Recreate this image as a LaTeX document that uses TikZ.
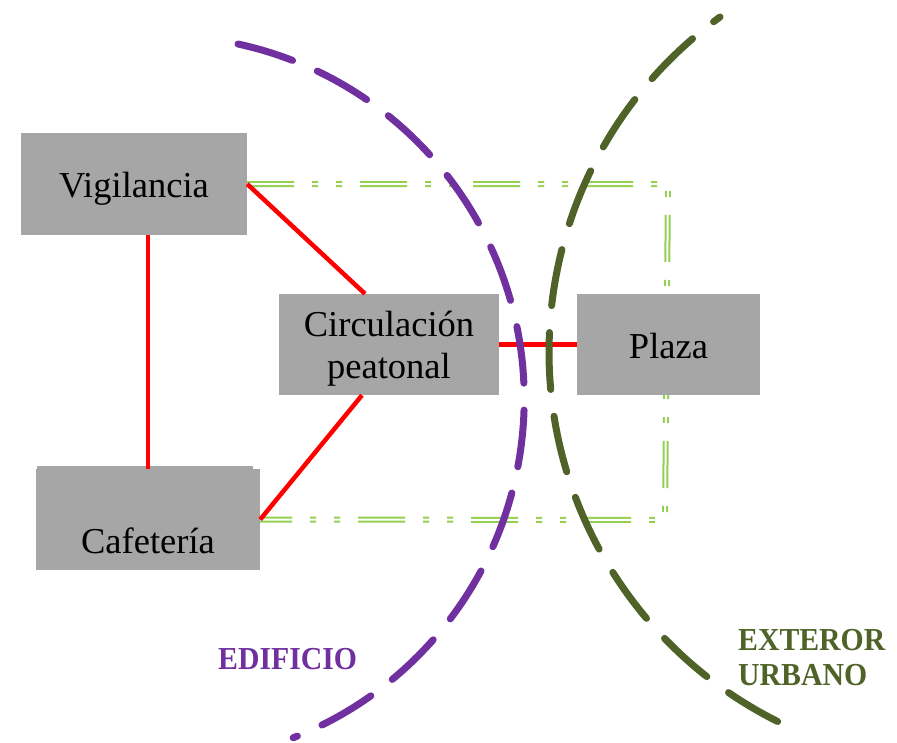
\documentclass[tikz,border=0pt]{standalone}
\usepackage{fontspec}
\setmainfont{Liberation Serif}
\newfontfamily\lblfont{Liberation Serif}[FakeStretch=0.93]
\usetikzlibrary{calc}
\definecolor{boxgray}{HTML}{A6A6A6}
\definecolor{linkred}{HTML}{FF0000}
\definecolor{edpurple}{HTML}{7030A0}
\definecolor{exgreen}{HTML}{4F6228}
\definecolor{zonegreen}{HTML}{92D050}
\tikzset{
  box/.style={rectangle, fill=boxgray, draw=none, inner sep=0pt},
  boxtext/.style={anchor=base, inner sep=0pt, font=\fontsize{36.5}{42}\selectfont},
  link/.style={draw=linkred, line width=4.5pt},
  zone/.style={draw=zonegreen, line width=2pt, double=white, double distance=2pt,
    dash pattern=on 47pt off 18pt on 6pt off 18pt on 6pt off 18pt},
  realm/.style={line width=7pt, line cap=round, dash pattern=on 57pt off 27pt},
  realmlabel/.style={anchor=base west, inner sep=0pt, font=\lblfont\bfseries\fontsize{32}{35}\selectfont}
}
\begin{document}
\begin{tikzpicture}[x=1pt,y=-1pt]
\useasboundingbox (0,0) rectangle (897,742);
% green zone (behind the boxes)
\coordinate (vige) at (247,184);
\coordinate (cafe) at (260,519.5);
\coordinate (z1) at (668,184);
\coordinate (z2) at (665,520);
\draw[zone] (vige) -- (z1) -- (z2) -- (cafe);
% boxes
\node[box, minimum width=226pt, minimum height=102pt] (vig) at (134,184) {};
\node[box, minimum width=220pt, minimum height=101pt] (circ) at (389,344.5) {};
\node[box, minimum width=183pt, minimum height=101pt] (plaza) at (668.5,344.5) {};
\node[box, minimum width=224pt, minimum height=101pt] (caf) at (148,519.5) {};
\fill[boxgray] (37,466) rectangle (253,470);
% box texts
\node[boxtext] (vigt) at (134,197.7) {Vigilancia};
\node[boxtext] (circt1) at (389,336.7) {Circulación};
\node[boxtext] (circt2) at (389,378) {peatonal};
\node[boxtext] (plazat) at (668.5,358) {Plaza};
\node[boxtext] (caft) at (148,553) {Cafetería};
% red links
\draw[link] (caf.north) -- (caf.north |- vig.south);
\draw[link] (vig.east) -- ($(circ.north)+(-24,0)$);
\draw[link] ($(circ.south)+(-27,0)$) -- (caf.east);
\draw[link] (circ.east) -- (plaza.west);
% realm arcs
\coordinate (pstart) at (238,44);
\coordinate (gstart) at (720,17);
\draw[realm, draw=edpurple] (pstart) arc[start angle=-77.7, end angle=68.6, radius=363.6];
\draw[realm, draw=exgreen, dash phase=49pt] (gstart) arc[start angle=234.1, end angle=116.5, radius=413.3];
% labels
\node[realmlabel, text=edpurple] (edl) at (218,669) {EDIFICIO};
\node[realmlabel, text=exgreen] (exl) at (738,650) {EXTEROR};
\node[realmlabel, text=exgreen] (exl2) at (738,685) {URBANO};
\end{tikzpicture}
\end{document}
